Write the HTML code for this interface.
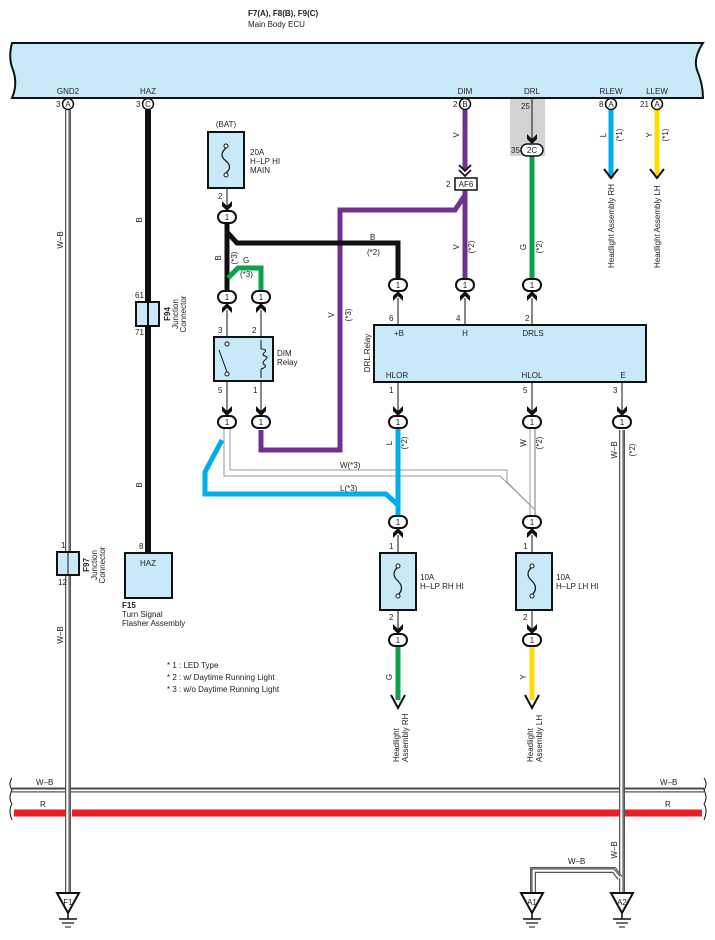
<!DOCTYPE html>
<html><head><meta charset="utf-8"><style>
html,body{margin:0;padding:0;background:#fff;}
svg{display:block;font-family:"Liberation Sans",sans-serif;}
text{font-size:8px;fill:#222;}
.b{font-weight:bold;}
</style></head><body>
<svg width="715" height="940" viewBox="0 0 715 940" xmlns="http://www.w3.org/2000/svg">
<defs>
<g id="con"><rect x="-9" y="-6" width="18" height="12" rx="6" fill="#fff" stroke="#111" stroke-width="2"/><text x="0" y="3" text-anchor="middle" font-size="8">1</text></g>
<g id="ad"><path d="M-5,-10 L0,-5 L5,-10 L5,-5 L0,0 L-5,-5Z" fill="#111"/></g>
<g id="au"><path d="M-5,10 L0,5 L5,10 L5,5 L0,0 L-5,5Z" fill="#111"/></g>
<g id="gnd"><path d="M-11,0 L11,0 L0,20Z" fill="#fff" stroke="#111" stroke-width="2"/><line x1="0" y1="20" x2="0" y2="26" stroke="#111" stroke-width="1.5"/><line x1="-9" y1="26" x2="9" y2="26" stroke="#111" stroke-width="1.5"/><line x1="-6" y1="30" x2="6" y2="30" stroke="#111" stroke-width="1.2"/><line x1="-3" y1="34" x2="3" y2="34" stroke="#111" stroke-width="1"/></g>
</defs>

<!-- ECU -->
<text x="248" y="16" class="b">F7(A), F8(B), F9(C)</text>
<text x="248" y="27">Main Body ECU</text>
<path d="M12,43 L703,43 Q693,58 697,70 Q703,84 703,98 L12,98 Q18,84 13,70 Q8,58 12,43Z" fill="#c8e9f8" stroke="#111" stroke-width="2"/>
<g text-anchor="middle"><text x="68" y="94">GND2</text><text x="148" y="94">HAZ</text><text x="465" y="94">DIM</text><text x="532" y="94">DRL</text><text x="611" y="94">RLEW</text><text x="657" y="94">LLEW</text></g>

<!-- DRL gray -->
<rect x="510" y="99" width="35" height="57" fill="#d3d3d3"/>
<text x="521" y="109">25</text>
<line x1="532" y1="98" x2="532" y2="140" stroke="#111" stroke-width="1"/>

<!-- bus lines -->
<g fill="none">
<line x1="12" y1="790" x2="704" y2="790" stroke="#555" stroke-width="5"/><line x1="12" y1="790" x2="704" y2="790" stroke="#fff" stroke-width="2.5"/><line x1="12" y1="789" x2="704" y2="789" stroke="#111" stroke-width="0.8"/>
<line x1="14" y1="813" x2="702" y2="813" stroke="#ee1c25" stroke-width="7"/>
<path d="M12,778 Q8,784 12,790 Q8,798 12,804 Q8,810 12,820 M704,778 Q708,784 704,790 Q708,798 704,804 Q708,810 704,820" stroke="#111" stroke-width="1"/>
</g>
<text x="36" y="785">W–B</text><text x="40" y="807">R</text><text x="660" y="785">W–B</text><text x="665" y="807">R</text>

<!-- W-B verticals -->
<g fill="none">
<path d="M68,110 V893" stroke="#555" stroke-width="6"/><path d="M68,110 V893" stroke="#fff" stroke-width="3.5"/><path d="M69,110 V893" stroke="#111" stroke-width="0.8"/>
<path d="M622,430 V893" stroke="#555" stroke-width="6"/><path d="M622,430 V893" stroke="#fff" stroke-width="3.5"/><path d="M623,430 V893" stroke="#111" stroke-width="0.8"/>
<path d="M533,893 V870 H614 L620,878" stroke="#555" stroke-width="6"/><path d="M533,893 V870 H614 L620,878" stroke="#fff" stroke-width="3.5"/><path d="M532,893 V869 H614 L620,876" stroke="#111" stroke-width="0.8"/>
</g>
<rect x="65" y="808" width="7" height="10" fill="#fff"/><path d="M68,808 V818" stroke="#555" stroke-width="6"/><path d="M68,808 V818" stroke="#fff" stroke-width="3.5"/><path d="M69,808 V818" stroke="#111" stroke-width="0.8"/>
<path d="M622,808 V818" stroke="#555" stroke-width="6"/><path d="M622,808 V818" stroke="#fff" stroke-width="3.5"/><path d="M623,808 V818" stroke="#111" stroke-width="0.8"/>
<text transform="translate(63,240) rotate(-90)" text-anchor="middle">W–B</text>
<text transform="translate(63,635) rotate(-90)" text-anchor="middle">W–B</text>
<text transform="translate(617,450) rotate(-90)" text-anchor="middle">W–B</text>
<text transform="translate(635,450) rotate(-90)" text-anchor="middle">(*2)</text>
<text transform="translate(617,850) rotate(-90)" text-anchor="middle">W–B</text>
<text x="568" y="864">W–B</text>

<use href="#gnd" x="68" y="893"/><text x="68" y="905" text-anchor="middle">F1</text>
<use href="#gnd" x="532" y="893"/><text x="532" y="905" text-anchor="middle">A1</text>
<use href="#gnd" x="622" y="893"/><text x="622" y="905" text-anchor="middle">A2</text>

<!-- F97 -->
<rect x="57" y="552" width="22" height="23" fill="#c8e9f8" stroke="#111" stroke-width="2"/>
<path d="M68,552 V575" stroke="#111"/>
<text x="61" y="548">1</text><text x="58" y="585">12</text>
<text transform="translate(89,565) rotate(-90)" text-anchor="middle" class="b">F97</text>
<text transform="translate(97,565) rotate(-90)" text-anchor="middle">Junction</text>
<text transform="translate(105,565) rotate(-90)" text-anchor="middle">Connector</text>

<!-- HAZ -->
<line x1="148" y1="110" x2="148" y2="553" stroke="#111" stroke-width="6"/>
<rect x="136" y="302" width="23" height="24" fill="#c8e9f8" stroke="#111" stroke-width="2"/>
<line x1="148" y1="302" x2="148" y2="326" stroke="#111" stroke-width="2"/>
<text x="135" y="298">61</text><text x="135" y="335">71</text>
<text transform="translate(170,314) rotate(-90)" text-anchor="middle" class="b">F94</text>
<text transform="translate(178,314) rotate(-90)" text-anchor="middle">Junction</text>
<text transform="translate(186,314) rotate(-90)" text-anchor="middle">Connector</text>
<text transform="translate(142,220) rotate(-90)" text-anchor="middle">B</text>
<text transform="translate(142,485) rotate(-90)" text-anchor="middle">B</text>
<rect x="125" y="553" width="47" height="45" fill="#c8e9f8" stroke="#111" stroke-width="2"/>
<text x="148" y="566" text-anchor="middle">HAZ</text><text x="139" y="549">8</text>
<text x="122" y="608" class="b">F15</text>
<text x="122" y="617">Turn Signal</text><text x="122" y="626">Flasher Assembly</text>

<!-- ECU pin circles -->
<g>
<circle cx="68" cy="104" r="5.5" fill="#fff" stroke="#111" stroke-width="1.5"/><text x="68" y="107" text-anchor="middle">A</text><text x="56" y="107">3</text>
<circle cx="148" cy="104" r="5.5" fill="#fff" stroke="#111" stroke-width="1.5"/><text x="148" y="107" text-anchor="middle">C</text><text x="136" y="107">3</text>
</g>

<!-- purple -->
<g fill="none" stroke="#70308f" stroke-width="5">
<path d="M465,110 V170"/>
<path d="M465,190 V285"/>
<path d="M465,195 L455,210 H340 V450 H261 V430"/>
</g>
<circle cx="465" cy="104" r="5.5" fill="#fff" stroke="#111" stroke-width="1.5"/><text x="465" y="107" text-anchor="middle">B</text><text x="453" y="107">2</text>
<path d="M459,165 L465,171 L471,165 M459,170 L465,176 L471,170" stroke="#111" stroke-width="1.8" fill="none"/>
<rect x="455" y="178" width="22" height="12" fill="#fff" stroke="#111" stroke-width="1.5"/><text x="466" y="187" text-anchor="middle">AF6</text><text x="446" y="187">2</text>
<text transform="translate(459,135) rotate(-90)" text-anchor="middle">V</text>
<text transform="translate(459,247) rotate(-90)" text-anchor="middle">V</text>
<text transform="translate(474,247) rotate(-90)" text-anchor="middle">(*2)</text>
<text transform="translate(334,315) rotate(-90)" text-anchor="middle">V</text>
<text transform="translate(351,315) rotate(-90)" text-anchor="middle">(*3)</text>

<!-- BAT fuse -->
<text x="226" y="127" text-anchor="middle">(BAT)</text>
<rect x="208" y="132" width="36" height="56" fill="#c8e9f8" stroke="#111" stroke-width="2"/>
<circle cx="226" cy="146" r="2" fill="#fff" stroke="#111"/><circle cx="226" cy="175" r="2" fill="#fff" stroke="#111"/>
<path d="M226,148 Q218,155 226,161 Q233,167 226,173" fill="none" stroke="#111" stroke-width="1.2"/>
<text x="250" y="155">20A</text><text x="250" y="164">H–LP HI</text><text x="250" y="173">MAIN</text>
<line x1="227" y1="188" x2="227" y2="210" stroke="#111"/><text x="218" y="199">2</text>
<use href="#ad" x="227" y="211"/>

<!-- black from bat -->
<g fill="none" stroke="#111" stroke-width="5">
<path d="M227,222 V292"/>
<path d="M227,232 L237,243 H398 V280"/>
</g>
<path d="M228,278 L238,268 H261 V292" fill="none" stroke="#0ea04b" stroke-width="5"/>
<text x="243" y="263">G</text><text x="240" y="277">(*3)</text>
<text transform="translate(221,258) rotate(-90)" text-anchor="middle">B</text>
<text transform="translate(237,258) rotate(-90)" text-anchor="middle">(*3)</text>
<text x="370" y="240">B</text><text x="367" y="255">(*2)</text>
<use href="#con" x="227" y="217"/>
<use href="#con" x="227" y="297"/><use href="#con" x="261" y="297"/>
<use href="#au" x="227" y="303"/><use href="#au" x="261" y="303"/>
<line x1="227" y1="310" x2="227" y2="337" stroke="#111"/><line x1="261" y1="310" x2="261" y2="337" stroke="#111"/>
<text x="218" y="333">3</text><text x="252" y="333">2</text>

<!-- DIM relay -->
<rect x="214" y="337" width="59" height="44" fill="#c8e9f8" stroke="#111" stroke-width="2"/>
<circle cx="227" cy="344" r="2" fill="#fff" stroke="#111"/><circle cx="227" cy="374" r="2" fill="#fff" stroke="#111"/>
<line x1="219" y1="350" x2="227" y2="372" stroke="#111"/>
<path d="M261,340 V349 M261,369 V378" stroke="#111"/>
<path d="M261,349 q6,0 4,3 q-4,3 0,4 q4,1 0,4 q-4,3 0,5 q2,2 -4,4" fill="none" stroke="#111"/>
<text x="277" y="356">DIM</text><text x="277" y="365">Relay</text>
<line x1="227" y1="381" x2="227" y2="416" stroke="#111"/><line x1="261" y1="381" x2="261" y2="416" stroke="#111"/>
<text x="218" y="393">5</text><text x="253" y="393">1</text>
<use href="#ad" x="227" y="416"/><use href="#ad" x="261" y="416"/>

<!-- W(*3) gray -->
<g fill="none">
<path d="M224,428 V476 H500 L530,505 V515" stroke="#999" stroke-width="1"/>
<path d="M230,428 V470 H507 V482 L535,510" stroke="#999" stroke-width="1"/>
</g>
<text x="340" y="468">W(*3)</text>
<!-- L(*3) blue -->
<path d="M222,440 L205,472 V494 H386 L398,505" fill="none" stroke="#00aeef" stroke-width="5"/>
<text x="340" y="491">L(*3)</text>
<use href="#con" x="227" y="422"/><use href="#con" x="261" y="422"/>

<!-- DRL relay top connectors -->
<path d="M532,156 V285" stroke="#0ea04b" stroke-width="5"/>
<use href="#ad" x="532" y="144"/>
<rect x="521" y="144" width="22" height="12" rx="6" fill="#fff" stroke="#111" stroke-width="1.5"/><text x="532" y="153" text-anchor="middle">2C</text><text x="511" y="153">35</text>
<text transform="translate(526,247) rotate(-90)" text-anchor="middle">G</text>
<text transform="translate(542,247) rotate(-90)" text-anchor="middle">(*2)</text>
<use href="#con" x="398" y="285"/><use href="#con" x="465" y="285"/><use href="#con" x="532" y="285"/>
<use href="#au" x="398" y="291"/><use href="#au" x="465" y="291"/><use href="#au" x="532" y="291"/>
<line x1="398" y1="298" x2="398" y2="325" stroke="#111"/><line x1="465" y1="298" x2="465" y2="325" stroke="#111"/><line x1="532" y1="298" x2="532" y2="325" stroke="#111"/>
<text x="389" y="321">6</text><text x="456" y="321">4</text><text x="525" y="321">2</text>

<rect x="374" y="325" width="272" height="57" fill="#c8e9f8" stroke="#111" stroke-width="2"/>
<text transform="translate(370,353) rotate(-90)" text-anchor="middle">DRL Relay</text>
<g text-anchor="middle"><text x="399" y="336">+B</text><text x="465" y="336">H</text><text x="533" y="336">DRLS</text>
<text x="397" y="378">HLOR</text><text x="532" y="378">HLOL</text><text x="623" y="378">E</text></g>
<line x1="398" y1="382" x2="398" y2="416" stroke="#111"/><line x1="532" y1="382" x2="532" y2="416" stroke="#111"/><line x1="622" y1="382" x2="622" y2="416" stroke="#111"/>
<text x="389" y="393">1</text><text x="523" y="393">5</text><text x="613" y="393">3</text>
<use href="#ad" x="398" y="416"/><use href="#ad" x="532" y="416"/><use href="#ad" x="622" y="416"/>

<!-- L, W down -->
<path d="M398,428 V516" stroke="#00aeef" stroke-width="5"/>
<path d="M530,428 V516" stroke="#999" stroke-width="1"/><path d="M535,428 V516" stroke="#bbb" stroke-width="2"/>
<text transform="translate(392,443) rotate(-90)" text-anchor="middle">L</text>
<text transform="translate(407,443) rotate(-90)" text-anchor="middle">(*2)</text>
<text transform="translate(526,443) rotate(-90)" text-anchor="middle">W</text>
<text transform="translate(542,443) rotate(-90)" text-anchor="middle">(*2)</text>
<use href="#con" x="398" y="422"/><use href="#con" x="532" y="422"/><use href="#con" x="622" y="422"/>

<!-- fuses 10A -->
<use href="#con" x="398" y="522"/><use href="#con" x="532" y="522"/>
<use href="#au" x="398" y="528"/><use href="#au" x="532" y="528"/>
<g stroke="#111"><line x1="398" y1="535" x2="398" y2="634"/><line x1="532" y1="535" x2="532" y2="634"/></g>
<text x="389" y="549">1</text><text x="523" y="549">1</text>
<rect x="380" y="553" width="36" height="57" fill="#c8e9f8" stroke="#111" stroke-width="2"/>
<rect x="516" y="553" width="36" height="57" fill="#c8e9f8" stroke="#111" stroke-width="2"/>
<g fill="none" stroke="#111" stroke-width="1.2">
<path d="M398,567 Q390,574 398,581 Q405,588 398,595"/><path d="M532,567 Q524,574 532,581 Q539,588 532,595"/>
</g>
<g fill="#fff" stroke="#111"><circle cx="398" cy="566" r="2"/><circle cx="398" cy="596" r="2"/><circle cx="532" cy="566" r="2"/><circle cx="532" cy="596" r="2"/></g>
<rect x="396" y="568" width="0" height="0"/>
<text x="420" y="580">10A</text><text x="420" y="589">H–LP RH HI</text>
<text x="556" y="580">10A</text><text x="556" y="589">H–LP LH HI</text>
<text x="389" y="620">2</text><text x="523" y="620">2</text>
<use href="#ad" x="398" y="634"/><use href="#ad" x="532" y="634"/>
<path d="M398,646 V700" stroke="#0ea04b" stroke-width="5"/>
<path d="M532,646 V700" stroke="#ffdd00" stroke-width="5"/>
<use href="#con" x="398" y="640"/><use href="#con" x="532" y="640"/>
<path d="M391,695 L398,708 L405,695" fill="none" stroke="#111" stroke-width="2"/>
<path d="M525,695 L532,708 L539,695" fill="none" stroke="#111" stroke-width="2"/>
<text transform="translate(392,677) rotate(-90)" text-anchor="middle">G</text>
<text transform="translate(526,677) rotate(-90)" text-anchor="middle">Y</text>
<text transform="translate(399,762) rotate(-90)">Headlight</text>
<text transform="translate(408,762) rotate(-90)">Assembly RH</text>
<text transform="translate(533,762) rotate(-90)">Headlight</text>
<text transform="translate(542,762) rotate(-90)">Assembly LH</text>

<!-- RLEW / LLEW -->
<path d="M611,110 V178" stroke="#00aeef" stroke-width="5"/>
<path d="M657,110 V178" stroke="#ffdd00" stroke-width="5"/>
<circle cx="611" cy="104" r="5.5" fill="#fff" stroke="#111" stroke-width="1.5"/><text x="611" y="107" text-anchor="middle">A</text><text x="599" y="107">8</text>
<circle cx="657" cy="104" r="5.5" fill="#fff" stroke="#111" stroke-width="1.5"/><text x="657" y="107" text-anchor="middle">A</text><text x="640" y="107">21</text>
<path d="M604,169 L611,178 L618,169" fill="none" stroke="#111" stroke-width="2"/>
<path d="M650,169 L657,178 L664,169" fill="none" stroke="#111" stroke-width="2"/>
<text transform="translate(606,135) rotate(-90)" text-anchor="middle">L</text>
<text transform="translate(622,135) rotate(-90)" text-anchor="middle">(*1)</text>
<text transform="translate(652,135) rotate(-90)" text-anchor="middle">Y</text>
<text transform="translate(668,135) rotate(-90)" text-anchor="middle">(*1)</text>
<text transform="translate(614,268) rotate(-90)">Headlight Assembly RH</text>
<text transform="translate(660,268) rotate(-90)">Headlight Assembly LH</text>

<!-- notes -->
<text x="167" y="668">* 1 : LED Type</text>
<text x="167" y="680">* 2 : w/ Daytime Running Light</text>
<text x="167" y="692">* 3 : w/o Daytime Running Light</text>
</svg>
</body></html>
